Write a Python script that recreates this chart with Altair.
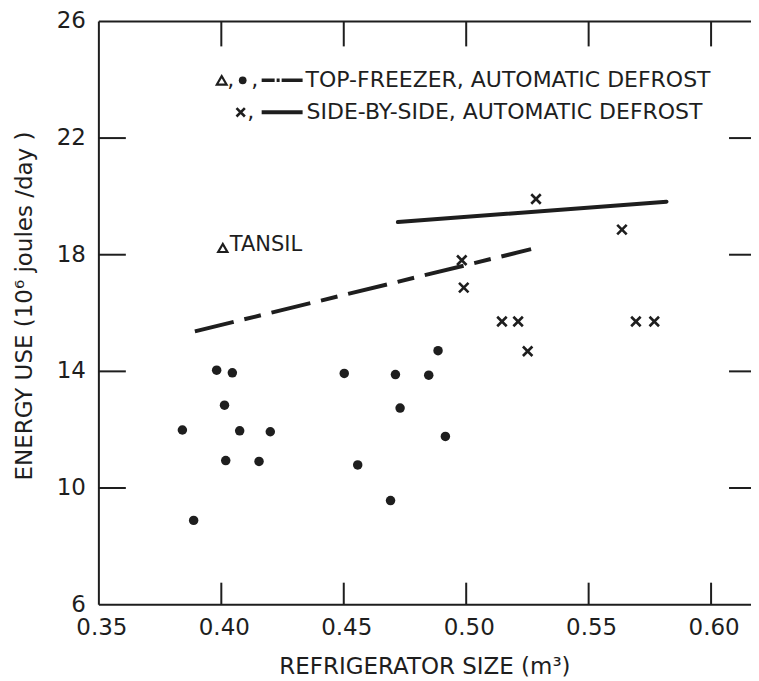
import altair as alt
import pandas as pd

# ---------------- data ----------------
# top-freezer, automatic defrost (filled circles)
tf_size = [0.3841, 0.3887, 0.3981, 0.4045, 0.4013, 0.4075, 0.4200, 0.4018, 0.4154,
           0.4502, 0.4557, 0.4885, 0.4711, 0.4847, 0.4730, 0.4915, 0.4691]
tf_energy = [11.99, 8.89, 14.04, 13.95, 12.84, 11.96, 11.93, 10.94, 10.91,
             13.93, 10.79, 14.71, 13.89, 13.87, 12.74, 11.77, 9.57]

# side-by-side, automatic defrost (crosses)
sbs_size = [0.5285, 0.5636, 0.4982, 0.4990, 0.5146, 0.5212, 0.5693, 0.5768, 0.5251]
sbs_energy = [19.91, 18.86, 17.81, 16.87, 15.71, 15.71, 15.71, 15.71, 14.69]

# Tansil (open triangle)
tansil_size = [0.4006]
tansil_energy = [18.23]
tansil_label = ["TANSIL"]

# fitted lines
tf_fit_size = [0.3892, 0.5265]
tf_fit_energy = [15.37, 18.19]
sbs_fit_size = [0.4721, 0.5818]
sbs_fit_energy = [19.12, 19.82]

# axes
x_label_values = [0.35, 0.40, 0.45, 0.50, 0.55, 0.60]
x_label_text = ["0.35", "0.40", "0.45", "0.50", "0.55", "0.60"]
y_label_values = [6, 10, 14, 18, 22, 26]
y_label_text = ["6", "10", "14", "18", "22", "26"]
x_inner_ticks = [0.40, 0.45, 0.50, 0.55, 0.60]
y_inner_ticks = [10, 14, 18, 22]
x_title = "REFRIGERATOR SIZE (m³)"
y_title = "ENERGY USE (10⁶ joules /day )"

legend_labels = ["TOP-FREEZER, AUTOMATIC DEFROST", "SIDE-BY-SIDE, AUTOMATIC DEFROST"]

# ---------------- styling ----------------
FONT = "DejaVu Sans"
INK = "#1e1e1e"
W, H = 653, 584
XPATH = "M-1,-1L1,1M1,-1L-1,1"

xs = alt.Scale(domain=[0.35, 0.6163], nice=False, zero=False)
ys = alt.Scale(domain=[6, 26], nice=False, zero=False)

tf_df = pd.DataFrame({"size": tf_size, "energy": tf_energy})
sbs_df = pd.DataFrame({"size": sbs_size, "energy": sbs_energy})
tansil_df = pd.DataFrame({"size": tansil_size, "energy": tansil_energy, "label": tansil_label})
tf_fit_df = pd.DataFrame({"size": tf_fit_size, "energy": tf_fit_energy})
sbs_fit_df = pd.DataFrame({"size": sbs_fit_size, "energy": sbs_fit_energy})
xl_df = pd.DataFrame({"v": x_label_values, "t": x_label_text})
yl_df = pd.DataFrame({"v": y_label_values, "t": y_label_text})


def X():
    return alt.X("size:Q", scale=xs, axis=None)


def Y():
    return alt.Y("energy:Q", scale=ys, axis=None)


circles = alt.Chart(tf_df).mark_circle(size=90, color=INK, opacity=1).encode(x=X(), y=Y())

crosses = alt.Chart(sbs_df).mark_point(shape=XPATH, filled=False, size=90,
                                       strokeWidth=2.6, color=INK, opacity=1).encode(x=X(), y=Y())

tansil_pt = alt.Chart(tansil_df).mark_point(shape="triangle-up", filled=False, size=85,
                                            strokeWidth=2.2, color=INK, opacity=1).encode(x=X(), y=Y())
tansil_txt = alt.Chart(tansil_df).mark_text(align="left", baseline="alphabetic", dx=7, dy=3,
                                            font=FONT, fontSize=21, color=INK).encode(
    x=X(), y=Y(), text="label:N")

tf_fit = alt.Chart(tf_fit_df).mark_line(color=INK, strokeWidth=4, strokeDash=[40, 11, 17, 11],
                                        strokeCap="butt").encode(x=X(), y=Y())
sbs_fit = alt.Chart(sbs_fit_df).mark_line(color=INK, strokeWidth=4, strokeCap="round").encode(
    x=X(), y=Y())

# axis labels and titles
x_labels = alt.Chart(xl_df).mark_text(align="center", baseline="top", dx=3, font=FONT,
                                      fontSize=23, color=INK).encode(
    x=alt.X("v:Q", scale=xs, axis=None), y=alt.value(H + 12), text="t:N")
y_labels = alt.Chart(yl_df).mark_text(align="right", baseline="middle", font=FONT,
                                      fontSize=23, color=INK).encode(
    y=alt.Y("v:Q", scale=ys, axis=None), x=alt.value(-13), text="t:N")

one = pd.DataFrame({"t": [""]})


def txt(s, x, y, align="left", size=22, angle=0, baseline="middle"):
    return alt.Chart(one).mark_text(align=align, baseline=baseline, font=FONT, fontSize=size,
                                    angle=angle, color=INK).encode(
        x=alt.value(x), y=alt.value(y), text=alt.value(s))


x_title_txt = txt(x_title, W / 2 + 0, H + 62, "center", 23)
y_title_txt = txt(y_title, -74, 285, "center", 23, angle=270)

# frame: left, bottom, top lines + inward ticks on all four sides
frame_df = pd.DataFrame({"v": [0]})
left_line = alt.Chart(frame_df).mark_rule(color=INK, strokeWidth=2).encode(
    x=alt.value(0), y=alt.value(0), y2=alt.value(H))
bottom_line = alt.Chart(frame_df).mark_rule(color=INK, strokeWidth=2).encode(
    x=alt.value(0), x2=alt.value(W), y=alt.value(H))
top_line = alt.Chart(frame_df).mark_rule(color=INK, strokeWidth=2).encode(
    x=alt.value(0), x2=alt.value(W), y=alt.value(0))

yt_df = pd.DataFrame({"v": y_inner_ticks})
xt_df = pd.DataFrame({"v": x_inner_ticks})
left_ticks = alt.Chart(yt_df).mark_rule(color=INK, strokeWidth=2).encode(
    y=alt.Y("v:Q", scale=ys, axis=None), x=alt.value(0), x2=alt.value(27))
right_ticks = alt.Chart(yt_df).mark_rule(color=INK, strokeWidth=2).encode(
    y=alt.Y("v:Q", scale=ys, axis=None), x=alt.value(W - 22), x2=alt.value(W))
bottom_ticks = alt.Chart(xt_df).mark_rule(color=INK, strokeWidth=2).encode(
    x=alt.X("v:Q", scale=xs, axis=None), y=alt.value(H - 22), y2=alt.value(H))
top_ticks = alt.Chart(xt_df).mark_rule(color=INK, strokeWidth=2).encode(
    x=alt.X("v:Q", scale=xs, axis=None), y=alt.value(0), y2=alt.value(25))

# legend (drawn in plot pixel space)
R1, R2 = 59, 91
leg = [
    alt.Chart(one).mark_point(shape="triangle-up", filled=False, size=95, strokeWidth=2.2,
                              color=INK, opacity=1).encode(x=alt.value(123), y=alt.value(R1)),
    txt(",", 132, R1, "center", 22),
    alt.Chart(one).mark_circle(size=60, color=INK, opacity=1).encode(x=alt.value(144), y=alt.value(R1)),
    txt(",", 156, R1, "center", 22),
    alt.Chart(one).mark_rule(color=INK, strokeWidth=3.5, strokeDash=[13, 2, 3, 2, 30]).encode(
        x=alt.value(163), x2=alt.value(204), y=alt.value(R1)),
    txt(legend_labels[0], 207, R1, "left", 22),
    alt.Chart(one).mark_point(shape=XPATH, filled=False, size=70, strokeWidth=2.6,
                              color=INK, opacity=1).encode(x=alt.value(142), y=alt.value(R2)),
    txt(",", 152, R2, "center", 22),
    alt.Chart(one).mark_rule(color=INK, strokeWidth=4).encode(
        x=alt.value(163), x2=alt.value(204), y=alt.value(R2)),
    txt(legend_labels[1], 208, R2, "left", 22),
]

chart = alt.layer(
    circles, crosses, tansil_pt, tansil_txt, tf_fit, sbs_fit,
    x_labels, y_labels, x_title_txt, y_title_txt,
    left_line, bottom_line, top_line,
    left_ticks, right_ticks, bottom_ticks, top_ticks, *leg
).properties(
    width=W, height=H,
    background="white",
    autosize=alt.AutoSizeParams(type="none"),
    padding={"left": 91, "top": 13, "right": 0, "bottom": 76},
).configure_view(stroke=None)

chart.save("out.html", embed_options={"renderer": "svg", "actions": False})
